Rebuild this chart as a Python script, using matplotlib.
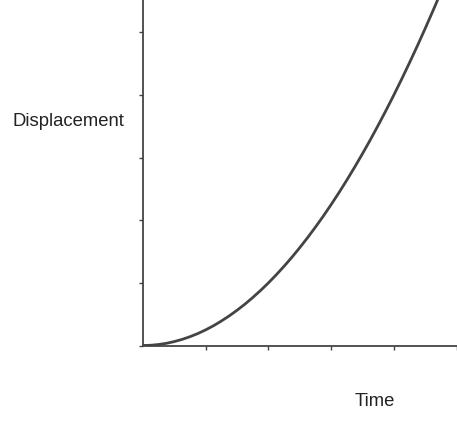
import matplotlib.pyplot as plt

# values (displacement vs time)
time = [0, 0.125, 0.25, 0.375, 0.5, 0.625, 0.75, 0.875, 1.0, 1.125, 1.25,
        1.375, 1.5, 1.625, 1.75, 1.875, 2.0, 2.125, 2.25, 2.375, 2.5,
        2.625, 2.75, 2.875, 3.0, 3.125, 3.25, 3.375, 3.5, 3.625, 3.75,
        3.875, 4.0, 4.125, 4.25, 4.375, 4.5, 4.625, 4.75]
displacement = [0, 0.004, 0.016, 0.035, 0.063, 0.098, 0.141, 0.191, 0.25,
                0.316, 0.391, 0.473, 0.563, 0.66, 0.766, 0.879, 1.0, 1.129,
                1.266, 1.41, 1.563, 1.723, 1.891, 2.066, 2.25, 2.441, 2.641,
                2.848, 3.063, 3.285, 3.516, 3.754, 4.0, 4.254, 4.516, 4.785,
                5.063, 5.348, 5.641]
x_ticks = [1, 2, 3, 4, 5]
y_ticks = [0, 1, 2, 3, 4, 5]

W, H = 457, 424
fig = plt.figure(figsize=(W / 100, H / 100), dpi=100)
ax = fig.add_axes([143 / W, (H - 345.5) / H, 313.5 / W, 345.5 / H])

ax.plot(time, displacement, color='#444444', linewidth=2.0,
        solid_capstyle='round')

ax.set_xlim(0, 5)
ax.set_ylim(0, 345.5 / 62.6)
ax.set_xticks(x_ticks)
ax.set_yticks(y_ticks)
ax.set_xticklabels([])
ax.set_yticklabels([])
ax.tick_params(direction='out', length=3, width=1, color='#444444')

for side in ['top', 'right']:
    ax.spines[side].set_visible(False)
for side in ['left', 'bottom']:
    ax.spines[side].set_color('#444444')
    ax.spines[side].set_linewidth(1.3)

font = {'family': 'Liberation Sans', 'size': 13.3, 'color': '#222222'}
fig.text(124 / W, 1 - 121 / H, 'Displacement', ha='right', va='center', fontdict=font)
fig.text(375 / W, 1 - 401 / H, 'Time', ha='center', va='center', fontdict=font)

fig.savefig('out.png', dpi=100)
